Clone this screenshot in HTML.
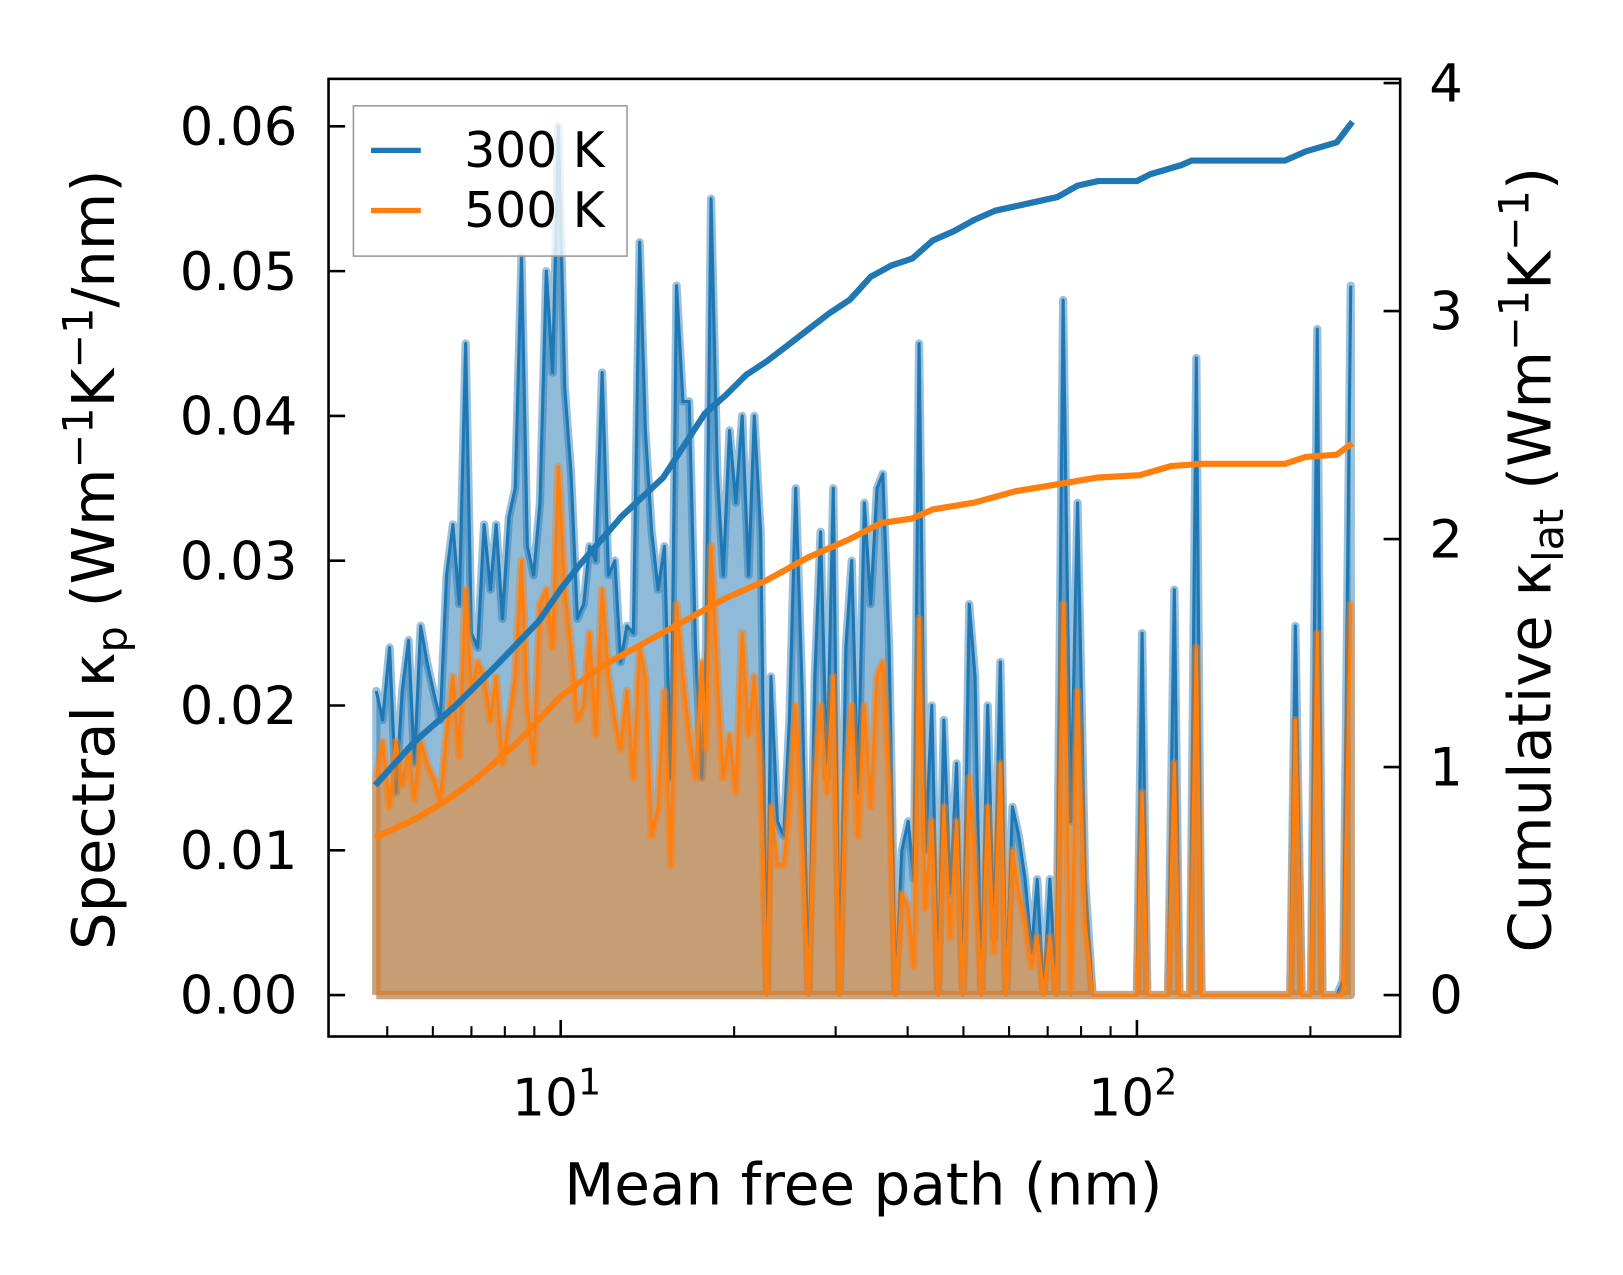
<!DOCTYPE html>
<html><head><meta charset="utf-8"><style>
html,body{margin:0;padding:0;background:#fff;}
svg{display:block;font-family:"DejaVu Sans","Liberation Sans",sans-serif;}
</style></head><body>
<svg id="chart" width="1623" height="1275" viewBox="0 0 1566 1230" xmlns="http://www.w3.org/2000/svg">
<g id="marks"></g>
<g id="axes"></g>
</svg>
<script>
// log10 of mean free path (nm) for spectral bins
const logMfp = [0.680,0.691,0.703,0.714,0.725,0.736,0.746,0.757,0.768,0.779,0.791,0.802,0.813,0.824,0.835,0.845,0.856,0.867,0.878,0.888,0.899,0.910,0.921,0.932,0.942,0.953,0.964,0.975,0.986,0.996,1.007,1.018,1.029,1.040,1.050,1.061,1.072,1.083,1.094,1.104,1.115,1.126,1.137,1.147,1.158,1.169,1.180,1.191,1.201,1.212,1.223,1.234,1.245,1.252,1.261,1.272,1.282,1.293,1.304,1.315,1.326,1.336,1.347,1.358,1.365,1.376,1.387,1.397,1.408,1.419,1.430,1.441,1.451,1.462,1.473,1.484,1.495,1.505,1.516,1.527,1.538,1.549,1.559,1.570,1.581,1.592,1.603,1.613,1.622,1.633,1.644,1.655,1.665,1.676,1.687,1.698,1.709,1.719,1.730,1.741,1.752,1.763,1.773,1.784,1.795,1.806,1.817,1.827,1.838,1.849,1.860,1.872,1.885,1.897,1.910,1.923,1.933,1.991,2.000,2.009,2.018,2.054,2.065,2.074,2.092,2.103,2.112,2.266,2.275,2.286,2.302,2.313,2.322,2.347,2.358,2.371];
const k300 = [0.021,0.019,0.024,0.014,0.021,0.0245,0.016,0.0255,0.023,0.021,0.019,0.029,0.0325,0.027,0.045,0.025,0.024,0.0325,0.028,0.0325,0.026,0.033,0.035,0.051,0.031,0.029,0.034,0.050,0.043,0.060,0.042,0.036,0.026,0.027,0.031,0.030,0.043,0.029,0.030,0.023,0.0255,0.025,0.052,0.039,0.032,0.028,0.031,0.015,0.049,0.041,0.041,0.024,0.015,0.024,0.055,0.036,0.029,0.039,0.034,0.040,0.029,0.040,0.032,0.0,0.022,0.012,0.011,0.019,0.035,0.021,0.0,0.022,0.032,0.015,0.035,0.0,0.024,0.030,0.014,0.034,0.027,0.035,0.036,0.024,0.0,0.010,0.012,0.008,0.045,0.010,0.020,0.0,0.019,0.007,0.016,0.0,0.027,0.022,0.0,0.020,0.004,0.023,0.0,0.013,0.011,0.008,0.003,0.008,0.0,0.008,0.0,0.048,0.012,0.034,0.008,0.0,0.0,0.0,0.0,0.025,0.0,0.0,0.028,0.0,0.0,0.044,0.0,0.0,0.0255,0.0,0.0,0.046,0.0,0.0,0.001,0.049];
const k500 = [0.015,0.0175,0.013,0.0175,0.0145,0.017,0.0135,0.0175,0.016,0.015,0.0135,0.018,0.022,0.0165,0.028,0.021,0.023,0.022,0.019,0.022,0.016,0.019,0.022,0.030,0.020,0.016,0.027,0.028,0.024,0.0365,0.028,0.024,0.019,0.020,0.025,0.018,0.028,0.022,0.019,0.017,0.021,0.015,0.024,0.022,0.011,0.013,0.021,0.009,0.027,0.022,0.018,0.015,0.023,0.017,0.031,0.022,0.015,0.018,0.014,0.025,0.018,0.022,0.016,0.0,0.013,0.009,0.009,0.013,0.020,0.011,0.0,0.015,0.020,0.014,0.022,0.0,0.015,0.020,0.011,0.020,0.013,0.022,0.023,0.015,0.0,0.007,0.006,0.002,0.026,0.006,0.012,0.0,0.013,0.004,0.012,0.0,0.015,0.009,0.0,0.013,0.003,0.016,0.0,0.010,0.007,0.005,0.002,0.004,0.0,0.004,0.0,0.027,0.0,0.021,0.005,0.0,0.0,0.0,0.0,0.014,0.0,0.0,0.016,0.0,0.0,0.024,0.0,0.0,0.019,0.0,0.0,0.025,0.0,0.0,0.0,0.027];
// cumulative curves
const cumLog300 = [0.678,0.746,0.818,0.890,0.962,1.0,1.034,1.106,1.178,1.250,1.286,1.322,1.358,1.394,1.430,1.466,1.502,1.538,1.574,1.610,1.646,1.682,1.718,1.754,1.790,1.826,1.862,1.897,1.933,2.0,2.023,2.077,2.095,2.257,2.293,2.347,2.374];
const cum300 = [0.92,1.11,1.27,1.45,1.64,1.78,1.89,2.10,2.27,2.55,2.63,2.72,2.78,2.85,2.92,2.99,3.05,3.15,3.20,3.23,3.31,3.35,3.40,3.44,3.46,3.48,3.50,3.55,3.57,3.57,3.60,3.64,3.66,3.66,3.70,3.74,3.83];
const cumLog500 = [0.678,0.746,0.800,0.854,0.926,1.0,1.070,1.142,1.214,1.286,1.358,1.430,1.502,1.556,1.610,1.646,1.718,1.790,1.862,1.933,2.005,2.059,2.113,2.257,2.293,2.347,2.374];
const cum500 = [0.69,0.77,0.85,0.95,1.11,1.31,1.44,1.54,1.64,1.74,1.82,1.92,2.00,2.07,2.09,2.13,2.16,2.21,2.24,2.27,2.28,2.32,2.33,2.33,2.36,2.37,2.42];
const leftTicks = [0,0.01,0.02,0.03,0.04,0.05,0.06];
const leftTickLabels = ["0.00","0.01","0.02","0.03","0.04","0.05","0.06"];
const rightTicks = [0,1,2,3,4];
const xMajor = [1,2];
const xMinor = [5,6,7,8,9,20,30,40,50,60,70,80,90,200];

const L=317,R=1351,T=76,B=1000;
const X = lg => 541 + 556*(lg-1);
const YL = v => 960 - v*13970;
const YR = v => 960 - v*220;
const NS="http://www.w3.org/2000/svg";
const marks=document.getElementById('marks'), axes=document.getElementById('axes');
function el(tag,attrs,parent){const e=document.createElementNS(NS,tag);for(const k in attrs)e.setAttribute(k,attrs[k]);parent.appendChild(e);return e;}

function spectral(vals,color,fill,name){
  let pts=logMfp.map((l,i)=>X(l).toFixed(1)+','+YL(vals[i]).toFixed(1));
  const x0=X(logMfp[0]).toFixed(1), x1=X(logMfp[logMfp.length-1]).toFixed(1);
  const f=el('polygon',{points:x0+','+YL(0)+' '+pts.join(' ')+' '+x1+','+YL(0),fill:fill,'fill-opacity':0.5,stroke:'none'},marks);
  
  
  const h=el('polyline',{points:x0+','+YL(0)+' '+pts.join(' ')+' '+x1+','+YL(0)+' '+x0+','+YL(0),fill:'none',stroke:color,'stroke-opacity':0.45,'stroke-width':8,'stroke-linejoin':'round'},marks);
  
  
  const ln=el('polyline',{points:pts.join(' '),fill:'none',stroke:color,'stroke-width':3,'stroke-linejoin':'round'},marks);
  
  
}
spectral(k300,'#1f77b4','#1f77b4','spectral-300k');
spectral(k500,'#ff7f0e','#ff7f0e','spectral-500k');

function cum(lgs,vals,color,name){
  const ln=el('polyline',{points:lgs.map((l,i)=>X(l).toFixed(1)+','+YR(vals[i]).toFixed(1)).join(' '),fill:'none',stroke:color,'stroke-width':6,'stroke-linejoin':'round'},marks);
  
  
}
cum(cumLog300,cum300,'#1f77b4','cumulative-300k');
cum(cumLog500,cum500,'#ff7f0e','cumulative-500k');

const fr=el('rect',{x:L,y:T,width:R-L,height:B-T,fill:'none',stroke:'#000','stroke-width':2.5},axes);


leftTicks.forEach((v,i)=>{
  const t=el('line',{x1:L,x2:L+16,y1:YL(v),y2:YL(v),stroke:'#000','stroke-width':2.5},axes);
  
  
  const tx=el('text',{x:L-30,y:YL(v)+18,'text-anchor':'end','font-size':51},axes);
  tx.textContent=leftTickLabels[i];
  
  
});
rightTicks.forEach(v=>{
  const t=el('line',{x1:R-16,x2:R,y1:YR(v),y2:YR(v),stroke:'#000','stroke-width':2.5},axes);
  
  
  const tx=el('text',{x:R+28,y:YR(v)+18,'text-anchor':'start','font-size':51},axes);
  tx.textContent=String(v);
  
  
});
xMajor.forEach(p=>{
  const t=el('line',{x1:X(p),x2:X(p),y1:B-16,y2:B,stroke:'#000','stroke-width':2.5},axes);
  
  
  const tx=el('text',{x:X(p)-4,y:B+76,'text-anchor':'middle','font-size':50},axes);
  
  
  tx.textContent='10';
  const s=el('tspan',{dy:-20,'font-size':35},tx);s.textContent=String(p);
});
xMinor.forEach(m=>{
  const t=el('line',{x1:X(Math.log10(m)),x2:X(Math.log10(m)),y1:B-10,y2:B,stroke:'#000','stroke-width':2}, axes);
  
  
});
</script>
<svg style="position:absolute;left:0;top:0" width="1623" height="1275" viewBox="0 0 1566 1230" xmlns="http://www.w3.org/2000/svg" font-family="DejaVu Sans, Liberation Sans, sans-serif">
<text x="833" y="1162" text-anchor="middle" font-size="56">Mean free path (nm)</text>
<text transform="translate(110,540) rotate(-90)" text-anchor="middle" font-size="57">Spectral κ<tspan font-size="40" dy="12">p</tspan><tspan dy="-12"> (Wm</tspan><tspan font-size="40" dy="-21">−1</tspan><tspan dy="21">K</tspan><tspan font-size="40" dy="-21">−1</tspan><tspan dy="21">/nm)</tspan></text>
<text transform="translate(1496,540) rotate(-90)" text-anchor="middle" font-size="57">Cumulative κ<tspan font-size="40" dy="12">lat</tspan><tspan dy="-12"> (Wm</tspan><tspan font-size="40" dy="-21">−1</tspan><tspan dy="21">K</tspan><tspan font-size="40" dy="-21">−1</tspan><tspan dy="21">)</tspan></text>
<g>
<rect x="341" y="102" width="264" height="145" fill="#fff" fill-opacity="0.8" stroke="#999" stroke-width="1.5"/>
<line x1="358" x2="406" y1="145" y2="145" stroke="#1f77b4" stroke-width="5"/>
<text x="448" y="161" font-size="47">300 K</text>
<line x1="358" x2="406" y1="203" y2="203" stroke="#ff7f0e" stroke-width="5"/>
<text x="448" y="219" font-size="47">500 K</text>
</g>
</svg>
</body></html>
